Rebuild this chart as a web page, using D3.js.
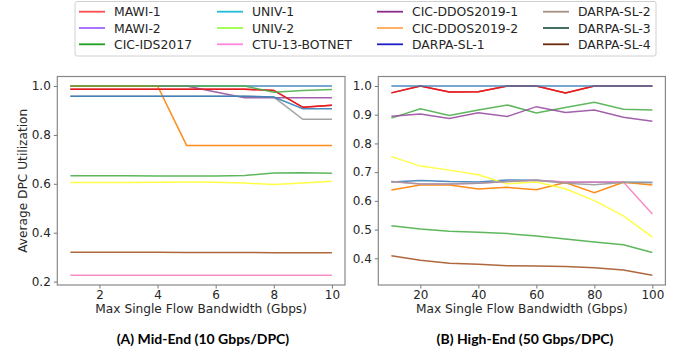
<!DOCTYPE html>
<html>
<head>
<meta charset="utf-8">
<script src="https://cdn.jsdelivr.net/npm/d3@7"></script>
<style>
  body { margin: 0; background: #fff; }
  svg { display: block; }
</style>
</head>
<body>
<script>
// series names, in legend order (column by column)
var names = ["MAWI-1", "MAWI-2", "CIC-IDS2017", "UNIV-1", "UNIV-2", "CTU-13-BOTNET",
             "CIC-DDOS2019-1", "CIC-DDOS2019-2", "DARPA-SL-1", "DARPA-SL-2", "DARPA-SL-3", "DARPA-SL-4"];

// colours shown in the legend
var legendColors = ["#ff4d4d", "#a066ff", "#22a022", "#22bbd8", "#99ff44", "#ff88dd",
                    "#8b2a8b", "#ffaa55", "#1f1fc8", "#a89080", "#2f5f50", "#6b2a0a"];

// colours the lines are actually drawn with
var lineColors = ["#e41a1c", "#377eb8", "#4daf4a", "#984ea3", "#ff7f00", "#ffff33",
                  "#a65628", "#f781bf", "#999999", "#e41a1c", "#377eb8", "#4daf4a"];

// (A) Mid-End, 10 Gbps/DPC
var midX = [1, 2, 3, 4, 5, 6, 7, 8, 9, 10];
var midMawi1   = [0.987, 0.987, 0.987, 0.987, 0.987, 0.987, 0.987, 0.982, 0.913, 0.921];
var midMawi2   = [1.0, 1.0, 1.0, 1.0, 1.0, 1.0, 1.0, 1.0, 1.0, 1.0];
var midCicIds  = [0.633, 0.633, 0.633, 0.632, 0.632, 0.632, 0.634, 0.644, 0.645, 0.643];
var midUniv1   = [1.0, 1.0, 1.0, 1.0, 1.0, 0.976, 0.952, 0.952, 0.952, 0.952];
var midUniv2   = [1.0, 1.0, 1.0, 1.0, 0.757, 0.757, 0.757, 0.757, 0.757, 0.757];
var midCtu     = [0.605, 0.605, 0.605, 0.606, 0.607, 0.606, 0.603, 0.597, 0.603, 0.610];
var midDdos1   = [0.320, 0.320, 0.320, 0.320, 0.319, 0.319, 0.319, 0.318, 0.318, 0.318];
var midDdos2   = [0.226, 0.226, 0.226, 0.226, 0.226, 0.226, 0.226, 0.226, 0.226, 0.226];
var midDarpa1  = [0.958, 0.958, 0.958, 0.958, 0.958, 0.958, 0.958, 0.955, 0.864, 0.864];
var midDarpa2  = [0.987, 0.987, 0.987, 0.987, 0.987, 0.987, 0.987, 0.982, 0.913, 0.921];
var midDarpa3  = [0.958, 0.958, 0.958, 0.958, 0.958, 0.958, 0.958, 0.955, 0.907, 0.907];
var midDarpa4  = [1.0, 1.0, 1.0, 1.0, 1.0, 1.0, 1.0, 0.975, 0.982, 0.986];

// (B) High-End, 50 Gbps/DPC
var highX = [10, 20, 30, 40, 50, 60, 70, 80, 90, 100];
var highMawi1  = [0.976, 1.0, 0.979, 0.980, 1.0, 1.0, 0.976, 1.0, 1.0, 1.0];
var highMawi2  = [0.666, 0.671, 0.667, 0.666, 0.673, 0.672, 0.665, 0.665, 0.665, 0.664];
var highCicIds = [0.888, 0.921, 0.897, 0.916, 0.934, 0.906, 0.925, 0.943, 0.919, 0.916];
var highUniv1  = [0.895, 0.902, 0.887, 0.907, 0.894, 0.928, 0.908, 0.916, 0.891, 0.877];
var highUniv2  = [0.638, 0.655, 0.655, 0.641, 0.647, 0.639, 0.664, 0.628, 0.665, 0.655];
var highCtu    = [0.754, 0.721, 0.707, 0.691, 0.659, 0.666, 0.642, 0.601, 0.548, 0.474];
var highDdos1  = [0.409, 0.393, 0.383, 0.379, 0.374, 0.373, 0.371, 0.367, 0.359, 0.341];
var highDdos2  = [0.667, 0.659, 0.659, 0.661, 0.667, 0.672, 0.666, 0.666, 0.666, 0.554];
var highDarpa1 = [0.667, 0.659, 0.659, 0.661, 0.667, 0.672, 0.661, 0.656, 0.664, 0.664];
var highDarpa2 = [0.976, 1.0, 0.979, 0.980, 1.0, 1.0, 0.976, 1.0, 1.0, 1.0];
var highDarpa3 = [1.0, 1.0, 1.0, 1.0, 1.0, 1.0, 1.0, 1.0, 1.0, 1.0];
var highDarpa4 = [0.513, 0.502, 0.494, 0.491, 0.486, 0.478, 0.467, 0.457, 0.447, 0.420];

var midTicksX = [2, 4, 6, 8, 10];
var midTicksY = [0.2, 0.4, 0.6, 0.8, 1.0];
var highTicksX = [20, 40, 60, 80, 100];
var highTicksY = [0.4, 0.5, 0.6, 0.7, 0.8, 0.9, 1.0];

var midSeries = [midMawi1, midMawi2, midCicIds, midUniv1, midUniv2, midCtu,
                 midDdos1, midDdos2, midDarpa1, midDarpa2, midDarpa3, midDarpa4];
var highSeries = [highMawi1, highMawi2, highCicIds, highUniv1, highUniv2, highCtu,
                  highDdos1, highDdos2, highDarpa1, highDarpa2, highDarpa3, highDarpa4];

var W = 675, H = 349;
var font = "DejaVu Sans, sans-serif";
var svg = d3.select("body").append("svg")
    .attr("width", W)
    .attr("height", H);

function panel(opts) {
    var x = d3.scaleLinear().domain(opts.xDomain).range([opts.left, opts.right]);
    var y = d3.scaleLinear().domain(opts.yDomain).range([opts.bottom, opts.top]);
    var g = svg.append("g");

    // lines
    var line = d3.line()
        .x(function(d) { return x(d[0]); })
        .y(function(d) { return y(d[1]); });
    opts.series.forEach(function(vals, i) {
        g.append("path")
            .datum(opts.xs.map(function(v, j) { return [v, vals[j]]; }))
            .attr("fill", "none")
            .attr("stroke", lineColors[i])
            .attr("stroke-width", 1.5)
            .attr("stroke-opacity", 0.9)
            .attr("d", line);
    });

    // axes
    var xAxis = g.append("g")
        .attr("transform", "translate(0," + opts.bottom + ")")
        .call(d3.axisBottom(x).tickValues(opts.xTicks).tickSize(3.5).tickPadding(2).tickSizeOuter(0));
    var yAxis = g.append("g")
        .attr("transform", "translate(" + opts.left + ",0)")
        .call(d3.axisLeft(y).tickValues(opts.yTicks).tickFormat(d3.format(".1f")).tickSize(3.5).tickPadding(3).tickSizeOuter(0));
    [xAxis, yAxis].forEach(function(a) {
        a.select(".domain").remove();
        a.selectAll("line").attr("stroke", "#777").attr("stroke-width", 1);
        a.selectAll("text").attr("font-family", font).attr("font-size", "12px").attr("fill", "#262626");
    });

    // frame
    g.append("rect")
        .attr("x", opts.left).attr("y", opts.top)
        .attr("width", opts.right - opts.left)
        .attr("height", opts.bottom - opts.top)
        .attr("fill", "none")
        .attr("stroke", "#888")
        .attr("stroke-width", 1.2);

    g.append("text")
        .attr("x", (opts.left + opts.right) / 2)
        .attr("y", 313)
        .attr("text-anchor", "middle")
        .attr("font-family", font)
        .attr("font-size", "12.2px")
        .attr("fill", "#262626")
        .text("Max Single Flow Bandwidth (Gbps)");

    g.append("text")
        .attr("x", opts.captionX)
        .attr("y", 344)
        .attr("text-anchor", "middle")
        .attr("font-family", "Lato, sans-serif")
        .attr("font-weight", "bold")
        .attr("font-size", "14px")
        .attr("fill", "#000")
        .text(opts.caption);
}

panel({
    xs: midX, series: midSeries,
    xDomain: [0.55, 10.45], yDomain: [0.186, 1.039],
    left: 57.3, right: 345, top: 76.5, bottom: 285,
    xTicks: midTicksX, yTicks: midTicksY,
    caption: "(A) Mid-End (10 Gbps/DPC)", captionX: 203
});
panel({
    xs: highX, series: highSeries,
    xDomain: [5.5, 104.5], yDomain: [0.307, 1.033],
    left: 378.3, right: 665.4, top: 76.5, bottom: 285,
    xTicks: highTicksX, yTicks: highTicksY,
    caption: "(B) High-End (50 Gbps/DPC)", captionX: 525
});

// y axis label (left panel only)
svg.append("text")
    .attr("transform", "translate(23,180.8) rotate(-90)")
    .attr("text-anchor", "middle")
    .attr("dominant-baseline", "central")
    .attr("font-family", font)
    .attr("font-size", "12.2px")
    .attr("fill", "#262626")
    .text("Average DPC Utilization");

// legend
var legend = svg.append("g");
legend.append("rect")
    .attr("x", 75).attr("y", 1.5)
    .attr("width", 581).attr("height", 54.5)
    .attr("rx", 2)
    .attr("fill", "#fff")
    .attr("stroke", "#d0d0d0")
    .attr("stroke-width", 1);

var colX = [79, 217, 377, 543];
var rowY = [11.7, 28, 44.3];
names.forEach(function(n, i) {
    var c = Math.floor(i / 3), r = i % 3;
    legend.append("line")
        .attr("x1", colX[c]).attr("x2", colX[c] + 26)
        .attr("y1", rowY[r]).attr("y2", rowY[r])
        .attr("stroke", legendColors[i])
        .attr("stroke-width", 1.8);
    legend.append("text")
        .attr("x", colX[c] + 35)
        .attr("y", rowY[r])
        .attr("dominant-baseline", "central")
        .attr("font-family", font)
        .attr("font-size", "12.4px")
        .attr("fill", "#262626")
        .text(n);
});
</script>
</body>
</html>
